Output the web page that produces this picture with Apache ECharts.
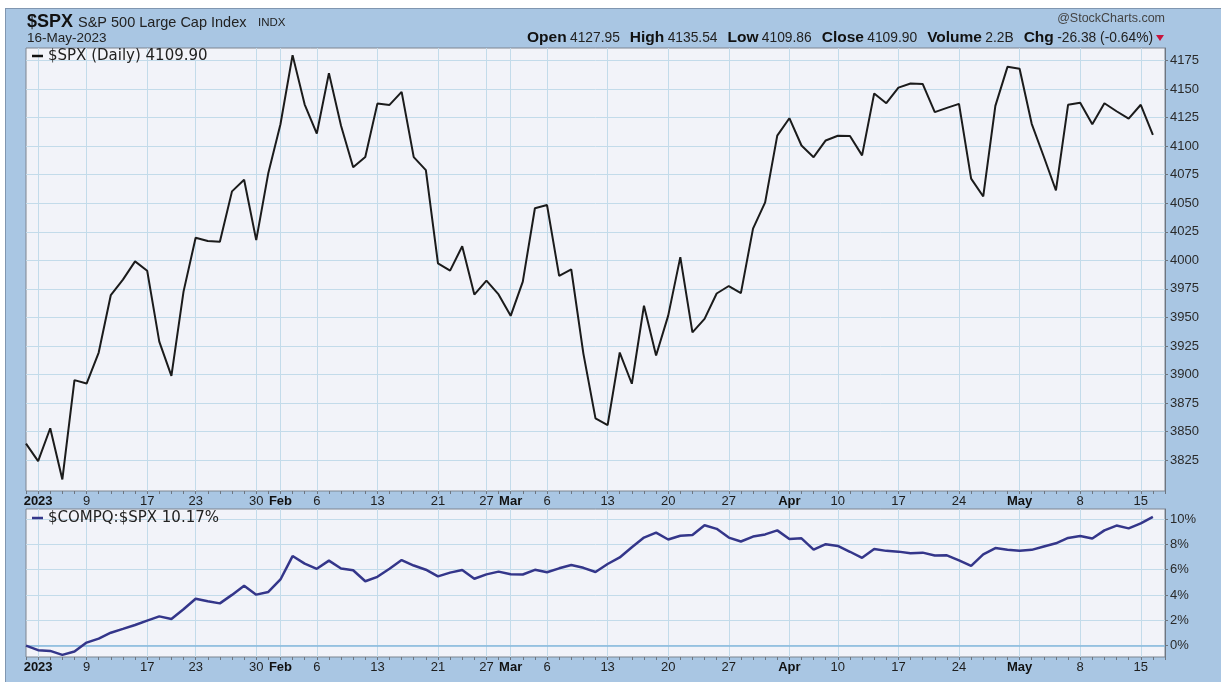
<!DOCTYPE html>
<html><head><meta charset="utf-8">
<script src="https://cdn.jsdelivr.net/npm/echarts@6/dist/echarts.min.js"></script>
<style>
html,body{margin:0;padding:0;background:#fff;}
#wrap{position:relative;width:1221px;height:682px;overflow:hidden;background:#fff;}
#bg{position:absolute;left:5px;top:8px;width:1216px;height:674px;background:#a9c6e3;border-left:1px solid #8096b0;border-top:1px solid #8096b0;box-sizing:border-box;}
#chart{position:absolute;left:0;top:0;width:1221px;height:682px;}
</style></head><body>
<div id="wrap"><div id="bg"></div><div id="chart"></div></div>
<script>
const dates = ['2022-12-30',
'2023-01-03','2023-01-04','2023-01-05','2023-01-06','2023-01-09','2023-01-10','2023-01-11','2023-01-12','2023-01-13','2023-01-17','2023-01-18','2023-01-19','2023-01-20','2023-01-23','2023-01-24','2023-01-25','2023-01-26','2023-01-27','2023-01-30','2023-01-31',
'2023-02-01','2023-02-02','2023-02-03','2023-02-06','2023-02-07','2023-02-08','2023-02-09','2023-02-10','2023-02-13','2023-02-14','2023-02-15','2023-02-16','2023-02-17','2023-02-21','2023-02-22','2023-02-23','2023-02-24','2023-02-27','2023-02-28',
'2023-03-01','2023-03-02','2023-03-03','2023-03-06','2023-03-07','2023-03-08','2023-03-09','2023-03-10','2023-03-13','2023-03-14','2023-03-15','2023-03-16','2023-03-17','2023-03-20','2023-03-21','2023-03-22','2023-03-23','2023-03-24','2023-03-27','2023-03-28','2023-03-29','2023-03-30','2023-03-31',
'2023-04-03','2023-04-04','2023-04-05','2023-04-06','2023-04-10','2023-04-11','2023-04-12','2023-04-13','2023-04-14','2023-04-17','2023-04-18','2023-04-19','2023-04-20','2023-04-21','2023-04-24','2023-04-25','2023-04-26','2023-04-27','2023-04-28',
'2023-05-01','2023-05-02','2023-05-03','2023-05-04','2023-05-05','2023-05-08','2023-05-09','2023-05-10','2023-05-11','2023-05-12','2023-05-15','2023-05-16'];

const spxClose = [3839.50,
3824.14,3852.97,3808.10,3895.08,3892.09,3919.25,3969.61,3983.17,3999.09,3990.97,3928.86,3898.85,3972.61,4019.81,4016.95,4016.22,4060.43,4070.56,4017.77,4076.60,
4119.21,4179.76,4136.48,4111.08,4164.00,4117.86,4081.50,4090.46,4137.29,4136.13,4147.60,4090.41,4079.09,3997.34,3991.05,4012.32,3970.04,3982.24,3970.15,
3951.39,3981.35,4045.64,4048.42,3986.37,3992.01,3918.32,3861.59,3855.76,3919.29,3891.93,3960.28,3916.64,3951.57,4002.87,3936.97,3948.72,3970.99,3977.53,3971.27,4027.81,4050.83,4109.31,
4124.51,4100.60,4090.38,4105.02,4109.11,4108.94,4091.95,4146.22,4137.64,4151.32,4154.87,4154.52,4129.79,4133.52,4137.04,4071.63,4055.99,4135.35,4169.48,
4167.87,4119.58,4090.75,4061.22,4136.25,4138.12,4119.17,4137.64,4130.62,4124.08,4136.28,4109.90];

const compqSpxPct = [0,
-0.36,-0.42,-0.73,-0.46,0.24,0.55,1.02,1.32,1.63,1.98,2.31,2.11,2.87,3.71,3.51,3.34,4.01,4.73,4.03,4.24,
5.23,7.08,6.48,6.07,6.72,6.10,5.96,5.09,5.44,6.08,6.76,6.33,6.00,5.47,5.77,5.97,5.29,5.63,5.85,
5.64,5.62,5.99,5.80,6.11,6.37,6.15,5.82,6.45,6.97,7.77,8.54,8.93,8.39,8.69,8.74,9.51,9.23,8.54,8.23,8.62,8.79,9.11,
8.42,8.48,7.59,8.02,7.88,7.42,6.94,7.64,7.49,7.43,7.30,7.35,7.12,7.14,6.74,6.31,7.22,7.71,7.57,
7.49,7.57,7.84,8.09,8.51,8.66,8.47,9.11,9.49,9.27,9.66,10.17];

const tickDates = ['2023-01-03','2023-01-09','2023-01-17','2023-01-23','2023-01-30','2023-02-01','2023-02-06','2023-02-13','2023-02-21','2023-02-27','2023-03-01','2023-03-06','2023-03-13','2023-03-20','2023-03-27','2023-04-03','2023-04-10','2023-04-17','2023-04-24','2023-05-01','2023-05-08','2023-05-15'];
const tickLabels = ['2023','9','17','23','30','Feb','6','13','21','27','Mar','6','13','20','27','Apr','10','17','24','May','8','15'];
const boldLabels = ['2023','Feb','Mar','Apr','May'];
const spxTicks = [3825,3850,3875,3900,3925,3950,3975,4000,4025,4050,4075,4100,4125,4150,4175];
const pctTicks = [0,2,4,6,8,10];

const FONT = 'Liberation Sans, Arial, sans-serif';
const isTick = (i, v) => tickDates.indexOf(v) >= 0;

function xAxisCfg(gi) {
  return {
    type: 'category', gridIndex: gi, data: dates.concat(['']), boundaryGap: false,
    axisLine: { show: false, onZero: false },
    axisTick: { show: true, interval: 0, length: 3, inside: false, lineStyle: { color: '#6d7580' } },
    axisLabel: {
      interval: isTick,
      margin: 4, color: '#1e1e1e', fontSize: 13, fontFamily: FONT,
      formatter: v => { const k = tickDates.indexOf(v); if (k < 0) return ''; const t = tickLabels[k]; return boldLabels.indexOf(t) >= 0 ? '{b|' + t + '}' : t; },
      rich: { b: { fontWeight: 'bold', fontSize: 13, color: '#111', fontFamily: FONT } }
    },
    splitLine: { show: true, interval: isTick, lineStyle: { color: '#c3dbea', width: 1 } }
  };
}

function yAxisCfg(gi, min, max, ticks, fmt) {
  return {
    type: 'value', gridIndex: gi, position: 'right', min: min, max: max, scale: true,
    axisLine: { show: true, onZero: false, lineStyle: { color: '#6d7580' } },
    axisTick: { show: true, length: 3, customValues: ticks, lineStyle: { color: '#6d7580' } },
    axisLabel: { customValues: ticks, formatter: fmt, color: '#2a2a2a', fontSize: 13, fontFamily: FONT, margin: 5 },
    splitLine: { show: true, lineStyle: { color: '#c3dbea', width: 1 } }
  };
}

const chart = echarts.init(document.getElementById('chart'), null, { renderer: 'canvas' });
chart.setOption({
  backgroundColor: 'transparent',
  animation: false,
  grid: [
    { left: 26, right: 56, top: 48, height: 443, show: true, backgroundColor: '#f2f3f9', borderColor: '#7d8590', borderWidth: 1 },
    { left: 26, right: 56, top: 509, height: 148, show: true, backgroundColor: '#f2f3f9', borderColor: '#7d8590', borderWidth: 1 }
  ],
  xAxis: [xAxisCfg(0), xAxisCfg(1)],
  yAxis: [
    yAxisCfg(0, 3798, 4186, spxTicks, v => String(v)),
    yAxisCfg(1, -0.9, 10.8, pctTicks, v => v + '%')
  ],
  series: [
    { type: 'line', xAxisIndex: 0, yAxisIndex: 0, data: spxClose, symbol: 'none', lineStyle: { color: '#1b1b1b', width: 2 }, z: 5 },
    { type: 'line', xAxisIndex: 1, yAxisIndex: 1, data: compqSpxPct, symbol: 'none', lineStyle: { color: '#34368a', width: 2.5 }, z: 5,
      markLine: { silent: true, symbol: 'none', label: { show: false }, lineStyle: { color: '#86b8dd', width: 1.5, type: 'solid' }, data: [{ yAxis: 0 }] } }
  ],
  graphic: [
    { type: 'text', x: 27, y: 22, style: { text: '$SPX', font: 'bold 18px ' + FONT, fill: '#111', textVerticalAlign: 'middle' } },
    { type: 'text', x: 78, y: 23, style: { text: 'S&P 500 Large Cap Index', font: '14.5px ' + FONT, fill: '#222', textVerticalAlign: 'middle' } },
    { type: 'text', x: 258, y: 23, style: { text: 'INDX', font: '11.5px ' + FONT, fill: '#222', textVerticalAlign: 'middle' } },
    { type: 'text', x: 27, y: 38, style: { text: '16-May-2023', font: '13.5px ' + FONT, fill: '#222', textVerticalAlign: 'middle' } },
    { type: 'text', x: 1165, y: 19, style: { text: '@StockCharts.com', font: '12.5px ' + FONT, fill: '#444', textAlign: 'right', textVerticalAlign: 'middle' } },
    { type: 'text', x: 1153, y: 38, style: {
        text: '{b|Open} {v|4127.95}   {b|High} {v|4135.54}   {b|Low} {v|4109.86}   {b|Close} {v|4109.90}   {b|Volume} {v|2.2B}   {b|Chg} {v|-26.38 (-0.64%)}',
        textAlign: 'right', textVerticalAlign: 'middle',
        rich: { b: { font: 'bold 15.5px ' + FONT, fill: '#111' }, v: { font: '13.8px ' + FONT, fill: '#222' } } } },
    { type: 'polygon', shape: { points: [[1156, 35], [1164, 35], [1160, 41]] }, style: { fill: '#c8143c' } },
    { type: 'line', shape: { x1: 32, y1: 56, x2: 43, y2: 56 }, style: { stroke: '#111', lineWidth: 2.5 }, z: 10 },
    { type: 'text', x: 48, y: 56, z: 10, style: { text: '$SPX (Daily) 4109.90', font: '15px DejaVu Sans', fill: '#222', textVerticalAlign: 'middle' } },
    { type: 'line', shape: { x1: 32, y1: 518, x2: 43, y2: 518 }, style: { stroke: '#34368a', lineWidth: 2.5 }, z: 10 },
    { type: 'text', x: 48, y: 518, z: 10, style: { text: '$COMPQ:$SPX 10.17%', font: '15px DejaVu Sans', fill: '#222', textVerticalAlign: 'middle' } }
  ]
});
</script>
</body></html>
